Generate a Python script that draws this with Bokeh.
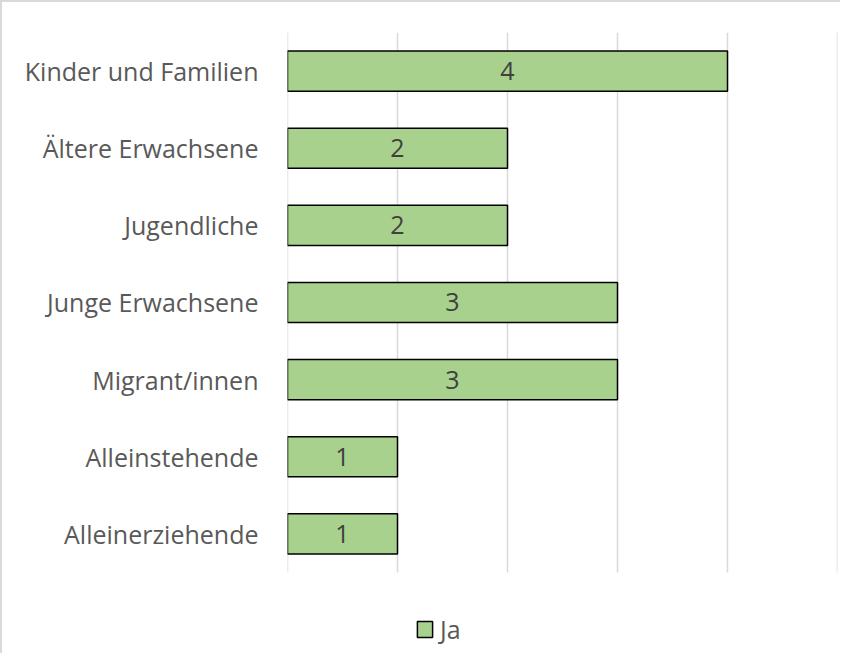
from bokeh.plotting import figure
from bokeh.models import ColumnDataSource, Legend, LegendItem, FixedTicker, LabelSet
from bokeh.core.properties import value
from bokeh.embed import file_html
from bokeh.resources import INLINE

categories = ["Kinder und Familien", "Ältere Erwachsene", "Jugendliche",
              "Junge Erwachsene", "Migrant/innen", "Alleinstehende", "Alleinerziehende"]
values = [4, 2, 2, 3, 3, 1, 1]
series_name = "Ja"
x_ticks = [0, 1, 2, 3, 4, 5]

FONT = "Open Sans"

n = len(categories)
ypos = [n - 1 - i for i in range(n)]  # first category on top

src = ColumnDataSource(dict(y=ypos, val=values,
                            mid=[v / 2 for v in values],
                            lab=[str(v) for v in values]))

p = figure(width=840, height=653, output_backend="svg", toolbar_location=None,
           x_range=(0, 5), y_range=(-1.576, n - 0.5),
           min_border_left=285, min_border_right=5, min_border_top=30, min_border_bottom=0)
p.outline_line_color = None
p.background_fill_color = "white"
p.border_fill_color = "white"
p.styles = {"border-left": "2px solid #d9d9d9", "border-top": "2px solid #d9d9d9"}

# vertical gridlines
p.segment(x0=x_ticks, x1=x_ticks, y0=[-0.5] * len(x_ticks), y1=[n - 0.5] * len(x_ticks),
          line_color="#d9d9d9", line_width=1.5)

r = p.hbar(y="y", right="val", left=0, height=0.52, source=src,
           fill_color="#A9D18E", line_color="black", line_width=1.5)

labels = LabelSet(x="mid", y="y", text="lab", source=src, text_align="center",
                  text_baseline="middle", text_color="#404040", text_font=value(FONT),
                  text_font_size="25px")
p.add_layout(labels)

p.xaxis.visible = False
p.xgrid.grid_line_color = None
p.ygrid.grid_line_color = None

ax = p.yaxis[0]
ax.ticker = FixedTicker(ticks=ypos)
ax.major_label_overrides = {y: c for y, c in zip(ypos, categories)}
ax.axis_line_color = None
ax.major_tick_line_color = None
ax.minor_tick_line_color = None
ax.major_label_text_font = FONT
ax.major_label_text_font_size = "25px"
ax.major_label_text_color = "#595959"
ax.major_label_standoff = 23

legend = Legend(items=[LegendItem(label=series_name, renderers=[r])],
                orientation="horizontal", location=(128, 9),
                label_text_font=FONT, label_text_font_size="25px",
                label_text_color="#595959", glyph_width=19, glyph_height=20,
                label_height=20,
                border_line_color=None, background_fill_alpha=0,
                margin=0, padding=0, label_standoff=6)
p.add_layout(legend, "center")

open("out.html", "w").write(file_html(p, INLINE))
